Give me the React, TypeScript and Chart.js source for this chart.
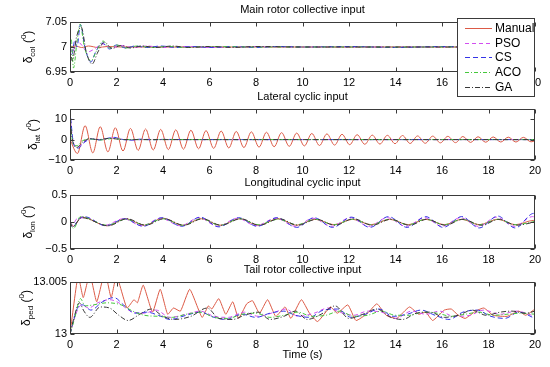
import React, { useEffect, useRef } from 'react';
import { Chart, registerables } from 'chart.js';
Chart.register(...registerables);

const FONT = '"Liberation Sans", Arial, Helvetica, sans-serif';

const timeTicks = [0, 2, 4, 6, 8, 10, 12, 14, 16, 18, 20];
const colTicks = [6.95, 7, 7.05];
const latTicks = [-10, 0, 10];
const lonTicks = [-0.5, 0, 0.5];
const pedTicks = [13, 13.005];

const seriesNames = ['Manual', 'PSO', 'CS', 'ACO', 'GA'];
const panelTitles = ['Main rotor collective input', 'Lateral cyclic input', 'Longitudinal cyclic input', 'Tail rotor collective input'];
const panelSubs = ['col', 'lat', 'lon', 'ped'];
const xTitle = 'Time (s)';

// ---- Main rotor collective (deg) ----
const colManual = [[0,7],[0.25,7.002],[0.5,6.999],[0.8,7.002],[1.2,6.999],[1.6,7.001],[2.2,7],[20,7]];
const colPSO = [[0,7],[0.1,6.99],[0.3,7.012],[0.5,7.004],[0.75,6.99],[1.05,6.996],[1.4,7.006],[1.8,6.998],[2.2,7.003],[2.7,6.999],[3.3,7.002],[4,6.999],[5,7.001],[6,6.999],[8,7.001],[10,7],[14,7],[20,7]];
const colCS = [[0,7],[0.08,6.985],[0.2,7.012],[0.3,7.0],[0.45,7.045],[0.65,6.998],[0.9,6.97],[1.1,6.99],[1.4,7.008],[1.7,6.996],[2.0,7.004],[2.4,6.998],[2.8,7.002],[3.3,6.999],[3.9,7.002],[4.6,6.999],[5.3,7.001],[6.0,6.999],[7,7.001],[8,6.999],[9,7.001],[10,7],[12,7.001],[14,6.999],[16,7.001],[18,7],[20,7]];
const colACO = [[0,7],[0.05,7.016],[0.15,6.958],[0.3,7.01],[0.43,7.046],[0.62,7.0],[0.9,6.972],[1.15,6.993],[1.42,7.012],[1.7,6.998],[2.0,7.004],[2.4,6.998],[2.9,7.002],[3.5,6.999],[4.2,7.001],[5,6.999],[6,7.001],[8,7],[20,7]];
const colGA = [[0,7],[0.1,6.972],[0.28,7.02],[0.48,7.04],[0.7,6.99],[0.95,6.966],[1.2,6.99],[1.48,7.01],[1.8,6.997],[2.2,7.003],[2.6,6.998],[3.1,7.002],[3.7,6.999],[4.4,7.002],[5.1,6.999],[6,7.001],[7,6.999],[8,7.001],[10,7],[20,7]];

// ---- Lateral cyclic (deg) ----
const latManual = [[0,0],[0.32,-6.8],[0.65,6.8],[0.98,-6.5],[1.3,6.3],[1.63,-6.0],[1.95,5.8],[2.28,-5.6],[2.6,5.5],[2.93,-5.3],[3.25,5.2],[3.58,-5.1],[3.9,5.0],[4.23,-4.9],[4.55,4.8],[4.88,-4.7],[5.2,4.6],[5.53,-4.5],[5.85,4.4],[6.18,-4.3],[6.5,4.2],[6.83,-4.1],[7.15,4.0],[7.48,-3.9],[7.8,3.8],[8.13,-3.7],[8.45,3.6],[8.78,-3.5],[9.1,3.4],[9.43,-3.3],[9.75,3.2],[10.08,-3.1],[10.4,3.0],[10.73,-2.9],[11.05,2.8],[11.38,-2.7],[11.7,2.6],[12.03,-2.5],[12.35,2.4],[12.68,-2.3],[13.0,2.2],[13.33,-2.2],[13.65,2.1],[13.98,-2.0],[14.3,2.0],[14.63,-1.9],[14.95,1.8],[15.28,-1.8],[15.6,1.7],[15.93,-1.6],[16.25,1.6],[16.58,-1.5],[16.9,1.5],[17.23,-1.4],[17.55,1.4],[17.88,-1.3],[18.2,1.3],[18.53,-1.2],[18.85,1.2],[19.18,-1.2],[19.5,1.1],[19.83,-1.1],[20,-0.6]];
const latPSO = [[0,12],[0.06,5],[0.18,-2.5],[0.35,-3.5],[0.6,-1.2],[0.9,0.5],[1.3,0],[1.8,0.8],[2.3,0.1],[2.8,-0.2],[3.3,0.1],[4,0],[20,0]];
const latCS = [[0,14.5],[0.05,8],[0.15,-2],[0.35,-4.2],[0.6,-1.5],[0.9,0.3],[1.25,-0.2],[1.6,0.6],[1.9,1.1],[2.2,0.2],[2.6,-0.3],[3.0,0.2],[3.5,-0.1],[4,0.1],[5,0],[20,0]];
const latACO = [[0,10],[0.05,4],[0.15,-2.5],[0.3,-3],[0.55,-0.5],[0.9,0.3],[1.3,-0.2],[1.8,0.5],[2.4,0],[20,0]];
const latGA = [[0,15],[0.04,6],[0.12,-1],[0.3,-3.8],[0.55,-1.2],[0.85,0.5],[1.2,0],[1.7,0.6],[2.3,0],[3,0],[20,0]];

// ---- Longitudinal cyclic (deg) ----
const lonManual = [[0,0],[0.15,-0.08],[0.5,0.09],[1.6,-0.07],[2.4,0.06],[3.2,-0.06],[4.0,0.07],[4.85,-0.06],[5.65,0.06],[6.45,-0.06],[7.3,0.06],[8.1,-0.06],[8.95,0.06],[9.75,-0.06],[10.55,0.05],[11.35,-0.05],[12.15,0.05],[12.95,-0.05],[13.75,0.05],[14.55,-0.05],[15.3,0.05],[16.1,-0.05],[16.85,0.05],[17.6,-0.05],[18.4,0.05],[19.15,-0.05],[19.95,0.03],[20,0.03]];
const lonPSO = [[0,0],[0.1,-0.05],[0.3,0.06],[0.7,0.08],[1.5,-0.06],[2.3,0.06],[3.1,-0.07],[3.9,0.07],[4.75,-0.07],[5.55,0.08],[6.35,-0.08],[7.2,0.07],[8.0,-0.07],[8.85,0.07],[9.7,-0.08],[10.45,0.07],[11.25,-0.08],[12.05,0.08],[12.85,-0.08],[13.65,0.08],[14.45,-0.08],[15.25,0.08],[16.0,-0.08],[16.8,0.08],[17.55,-0.08],[18.35,0.09],[19.1,-0.08],[19.9,0.1],[20,0.09]];
const lonCS = [[0,0],[0.12,-0.1],[0.35,0.04],[0.6,0.1],[1.55,-0.07],[2.35,0.06],[3.15,-0.08],[3.95,0.08],[4.8,-0.08],[5.6,0.09],[6.4,-0.09],[7.25,0.08],[8.05,-0.08],[8.9,0.08],[9.75,-0.1],[10.5,0.08],[11.3,-0.1],[12.1,0.09],[12.9,-0.1],[13.7,0.1],[14.5,-0.1],[15.3,0.1],[16.05,-0.1],[16.85,0.1],[17.6,-0.11],[18.4,0.11],[19.15,-0.11],[19.95,0.16],[20,0.16]];
const lonACO = [[0,0],[0.15,-0.12],[0.45,0.1],[1.6,-0.06],[2.4,0.05],[3.2,-0.05],[4.0,0.06],[4.85,-0.06],[5.65,0.06],[6.45,-0.06],[7.3,0.06],[8.1,-0.05],[8.95,0.05],[9.75,-0.05],[10.55,0.05],[11.35,-0.05],[12.15,0.05],[12.95,-0.05],[13.75,0.05],[14.55,-0.05],[15.3,0.05],[16.1,-0.05],[16.85,0.05],[17.6,-0.05],[18.4,0.05],[19.15,-0.05],[20,0.01]];
const lonGA = [[0,0],[0.1,-0.09],[0.5,0.08],[1.65,-0.07],[2.45,0.06],[3.25,-0.06],[4.05,0.06],[4.9,-0.06],[5.7,0.06],[6.5,-0.06],[7.35,0.06],[8.15,-0.06],[9.0,0.06],[9.8,-0.06],[10.6,0.05],[11.4,-0.06],[12.2,0.06],[13.0,-0.06],[13.8,0.05],[14.6,-0.06],[15.35,0.05],[16.15,-0.06],[16.9,0.05],[17.7,-0.06],[18.45,0.05],[19.2,-0.06],[20,0.0]];

// ---- Tail rotor collective (deg) ----
const pedManual = [[0,13],[0.35,13.0056],[0.57,13.0035],[0.85,13.0058],[1.15,13.0031],[1.5,13.006],[1.77,13.0035],[2.0,13.0056],[2.45,13.0025],[2.75,13.0033],[2.9,13.003],[3.15,13.0047],[3.55,13.0021],[3.88,13.0043],[4.2,13.0019],[4.45,13.0025],[4.75,13.0022],[5.15,13.0043],[5.68,13.0016],[5.95,13.0027],[6.1,13.0024],[6.4,13.0034],[6.7,13.0019],[7.0,13.0031],[7.25,13.0015],[7.6,13.0029],[7.85,13.0032],[8.15,13.002],[8.5,13.0033],[8.85,13.0017],[9.25,13.0026],[9.5,13.0015],[9.95,13.0033],[10.3,13.002],[10.65,13.0012],[11.2,13.0026],[11.5,13.002],[11.95,13.0028],[12.3,13.0013],[12.8,13.002],[13.2,13.0029],[13.6,13.0018],[14.05,13.0015],[14.6,13.0026],[15.0,13.0019],[15.3,13.0021],[15.6,13.0013],[16.1,13.0023],[16.4,13.0024],[16.7,13.0018],[17.0,13.0015],[17.45,13.0022],[17.8,13.0025],[18.2,13.0018],[18.8,13.0017],[19.3,13.0022],[19.6,13.0018],[20,13.0024]];
const pedPSO = [[0,13],[0.3,13.0022],[0.5,13.0028],[0.8,13.0025],[1.2,13.003],[1.7,13.0033],[2.1,13.003],[2.6,13.0022],[3.2,13.002],[3.7,13.0023],[4.3,13.0016],[5.0,13.0019],[5.6,13.0022],[6.2,13.0017],[6.8,13.0016],[7.5,13.0021],[8.1,13.0017],[8.8,13.0021],[9.3,13.0024],[9.8,13.0017],[10.5,13.002],[11.1,13.0025],[11.6,13.0021],[12.2,13.0018],[12.8,13.0022],[13.4,13.0021],[14.0,13.0015],[14.7,13.0022],[15.3,13.0019],[15.9,13.0022],[16.5,13.0017],[17.2,13.0018],[17.8,13.0023],[18.5,13.0019],[19.2,13.0022],[20,13.0017]];
const pedCS = [[0,13],[0.35,13.0026],[0.55,13.0028],[0.9,13.0023],[1.4,13.0031],[1.9,13.0035],[2.3,13.0028],[2.8,13.002],[3.3,13.0021],[3.8,13.0018],[4.3,13.0014],[5.0,13.0018],[5.6,13.0021],[6.2,13.0016],[6.7,13.0014],[7.4,13.0019],[8.0,13.0016],[8.6,13.002],[9.2,13.0022],[9.7,13.0018],[10.3,13.0016],[10.9,13.0023],[11.5,13.0024],[12.1,13.0016],[12.7,13.0019],[13.3,13.0024],[13.9,13.0017],[14.5,13.0019],[15.1,13.0023],[15.7,13.0018],[16.3,13.0014],[16.9,13.0021],[17.5,13.0023],[18.1,13.0017],[18.7,13.0015],[19.3,13.0021],[20,13.0015]];
const pedACO = [[0,13],[0.2,13.0015],[0.45,13.0034],[0.65,13.0027],[1.0,13.0028],[1.6,13.003],[2.2,13.0028],[2.7,13.0022],[3.2,13.0018],[3.8,13.0017],[4.4,13.0016],[5.0,13.0019],[5.6,13.0021],[6.2,13.0016],[6.8,13.0015],[7.4,13.0019],[8.0,13.002],[8.6,13.0016],[9.2,13.0018],[9.8,13.0021],[10.4,13.0017],[11.0,13.0018],[11.6,13.0022],[12.2,13.0017],[12.8,13.0018],[13.4,13.0022],[14.0,13.0018],[14.6,13.0018],[15.2,13.0021],[15.8,13.002],[16.4,13.0017],[17.0,13.0019],[17.6,13.0021],[18.2,13.0018],[18.8,13.0019],[19.4,13.002],[20,13.0019]];
const pedGA = [[0,13],[0.2,13.0018],[0.4,13.003],[0.6,13.0022],[0.85,13.0016],[1.3,13.0026],[1.7,13.0025],[2.1,13.0018],[2.5,13.0013],[3.0,13.0019],[3.5,13.0024],[4.0,13.0017],[4.5,13.0014],[5.2,13.0017],[5.9,13.0025],[6.4,13.0015],[7.0,13.0014],[7.5,13.0018],[8.1,13.0021],[8.6,13.0014],[9.2,13.0017],[9.7,13.0022],[10.2,13.0014],[10.8,13.0019],[11.4,13.0027],[12.0,13.0015],[12.6,13.0019],[13.2,13.0024],[13.8,13.0016],[14.3,13.0014],[14.9,13.002],[15.5,13.0021],[16.1,13.0016],[16.7,13.0018],[17.3,13.0023],[17.9,13.0018],[18.5,13.0021],[19.0,13.0022],[19.6,13.002],[20,13.0022]];

const panelSeries = [
  [colManual, colPSO, colCS, colACO, colGA],
  [latManual, latPSO, latCS, latACO, latGA],
  [lonManual, lonPSO, lonCS, lonACO, lonGA],
  [pedManual, pedPSO, pedCS, pedACO, pedGA],
];
const panelYTicks = [colTicks, latTicks, lonTicks, pedTicks];
const panelYRange = [[6.95, 7.05], [-10, 15], [-0.5, 0.5], [13, 13.005]];

// layout / style
const W = 550, H = 367;
const PLOT_L = 70, PLOT_R = 535;
const panelBox = [[22, 72], [109, 160], [195, 249], [282, 334]];
const labelX = [32, 37, 32, 30];
const colors = ['#dc5a46', '#d24ef0', '#3434e6', '#46c83c', '#383838'];
const dashes = [[], [4, 3], [5, 3], [4, 2, 1, 2], [5, 2, 1, 2]];

function fmt(v: number) {
  return String(parseFloat(v.toFixed(4))).replace('-', '\u2212');
}

function drawYLabel(ctx: CanvasRenderingContext2D, x: number, y: number, sub: string) {
  ctx.save();
  ctx.translate(x, y);
  ctx.rotate(-Math.PI / 2);
  const big = '12px ' + FONT, small = '8px ' + FONT;
  ctx.font = big;
  const w1 = ctx.measureText('\u03b4').width;
  const w3 = ctx.measureText(' (').width;
  ctx.font = small;
  const w2 = ctx.measureText(sub).width;
  const w4 = ctx.measureText('0').width;
  ctx.font = big;
  const w5 = ctx.measureText(')').width;
  const total = w1 + w2 + w3 + w4 + w5;
  let cx = -total / 2;
  ctx.textAlign = 'left';
  ctx.textBaseline = 'alphabetic';
  ctx.fillStyle = '#000';
  ctx.font = big; ctx.fillText('\u03b4', cx, 0); cx += w1;
  ctx.font = small; ctx.fillText(sub, cx, 3); cx += w2;
  ctx.font = big; ctx.fillText(' (', cx, 0); cx += w3;
  ctx.font = small; ctx.fillText('0', cx, -6); cx += w4;
  ctx.font = big; ctx.fillText(')', cx, 0);
  ctx.restore();
}

function makeDecor(p: number) {
  return {
    id: 'decor' + p,
    afterDraw(chart: any) {
      const { ctx, chartArea: a, scales } = chart;
      ctx.save();
      ctx.strokeStyle = '#3a3a3a';
      ctx.lineWidth = 1;
      const L = Math.round(a.left) + 0.5, R = Math.round(a.right) - 0.5;
      const T = Math.round(a.top) + 0.5, B = Math.round(a.bottom) - 0.5;
      ctx.strokeRect(L, T, R - L, B - T);
      ctx.beginPath();
      timeTicks.forEach((v) => {
        const px = Math.round(scales.x.getPixelForValue(v)) + 0.5;
        ctx.moveTo(px, B); ctx.lineTo(px, B - 4);
        ctx.moveTo(px, T); ctx.lineTo(px, T + 4);
      });
      panelYTicks[p].forEach((v) => {
        const py = Math.round(scales.y.getPixelForValue(v)) + 0.5;
        ctx.moveTo(L, py); ctx.lineTo(L + 4, py);
        ctx.moveTo(R, py); ctx.lineTo(R - 4, py);
      });
      ctx.stroke();
      ctx.fillStyle = '#000';
      ctx.font = '11px ' + FONT;
      ctx.textAlign = 'center';
      ctx.textBaseline = 'middle';
      const cx = (a.left + a.right) / 2;
      ctx.fillText(panelTitles[p], cx, a.top - 12);
      if (p === 3) ctx.fillText(xTitle, cx, a.bottom + 21);
      drawYLabel(ctx, labelX[p], (a.top + a.bottom) / 2, panelSubs[p]);
      if (p === 0) {
        const lx = 457, ly = 18, lw = 78, lh = 79;
        ctx.fillStyle = '#fff';
        ctx.fillRect(lx, ly, lw, lh);
        ctx.strokeStyle = '#3a3a3a';
        ctx.strokeRect(lx + 0.5, ly + 0.5, lw - 1, lh - 1);
        ctx.font = '12px ' + FONT;
        seriesNames.forEach((n, i) => {
          const y = Math.round(28 + i * 14.7) + 0.5;
          ctx.strokeStyle = colors[i];
          ctx.setLineDash(dashes[i]);
          ctx.beginPath();
          ctx.moveTo(465, y); ctx.lineTo(492, y);
          ctx.stroke();
          ctx.setLineDash([]);
          ctx.fillStyle = '#000';
          ctx.textAlign = 'left';
          ctx.fillText(n, 495, y);
        });
      }
      ctx.restore();
    },
  };
}

function buildChart(canvas: HTMLCanvasElement, p: number) {
  const [top, bottom] = panelBox[p];
  const xH = 20;
  const datasets = panelSeries[p].map((arr, i) => ({
    label: seriesNames[i],
    data: arr.map(([x, y]) => ({ x, y })),
    borderColor: colors[i],
    borderWidth: 1,
    borderDash: dashes[i],
    pointRadius: 0,
    fill: false,
    cubicInterpolationMode: p === 3 && i === 0 ? 'default' : 'monotone',
    tension: p === 3 && i === 0 ? 0.15 : 0.4,
  }));
  return new Chart(canvas, {
    type: 'line',
    data: { datasets: datasets.slice().reverse() as any },
    options: {
      animation: false,
      responsive: false,
      maintainAspectRatio: false,
      devicePixelRatio: 1,
      events: [],
      layout: { padding: { left: 0, right: W - PLOT_R, top, bottom: H - bottom - xH } },
      plugins: { legend: { display: false }, title: { display: false }, tooltip: { enabled: false } },
      scales: {
        x: {
          type: 'linear',
          min: 0,
          max: 20,
          grid: { display: false, drawTicks: false },
          border: { display: false },
          afterFit: (s: any) => { s.height = xH; },
          afterBuildTicks: (s: any) => { s.ticks = timeTicks.map((v) => ({ value: v })); },
          ticks: { color: '#000', font: { family: FONT, size: 11 }, padding: 4, maxRotation: 0, autoSkip: false, callback: (v: any) => fmt(Number(v)) },
        },
        y: {
          type: 'linear',
          min: panelYRange[p][0],
          max: panelYRange[p][1],
          grid: { display: false, drawTicks: false },
          border: { display: false },
          afterFit: (s: any) => { s.width = PLOT_L; },
          afterBuildTicks: (s: any) => { s.ticks = panelYTicks[p].map((v) => ({ value: v })); },
          ticks: { color: '#000', font: { family: FONT, size: 11 }, padding: 3, autoSkip: false, callback: (v: any) => fmt(Number(v)) },
        },
      },
    } as any,
    plugins: [makeDecor(p)],
  });
}

export default function App() {
  const refs = [useRef<HTMLCanvasElement>(null), useRef<HTMLCanvasElement>(null), useRef<HTMLCanvasElement>(null), useRef<HTMLCanvasElement>(null)];
  useEffect(() => {
    const charts = refs.map((r, p) => buildChart(r.current as HTMLCanvasElement, p));
    return () => charts.forEach((c) => c.destroy());
  }, []);
  return (
    <div style={{ position: 'fixed', left: 0, top: 0, width: W, height: H, background: '#fff', overflow: 'hidden' }}>
      {[3, 2, 1, 0].map((p) => (
        <canvas key={p} ref={refs[p]} width={W} height={H} style={{ position: 'absolute', left: 0, top: 0, width: W, height: H, display: 'block' }} />
      ))}
    </div>
  );
}
